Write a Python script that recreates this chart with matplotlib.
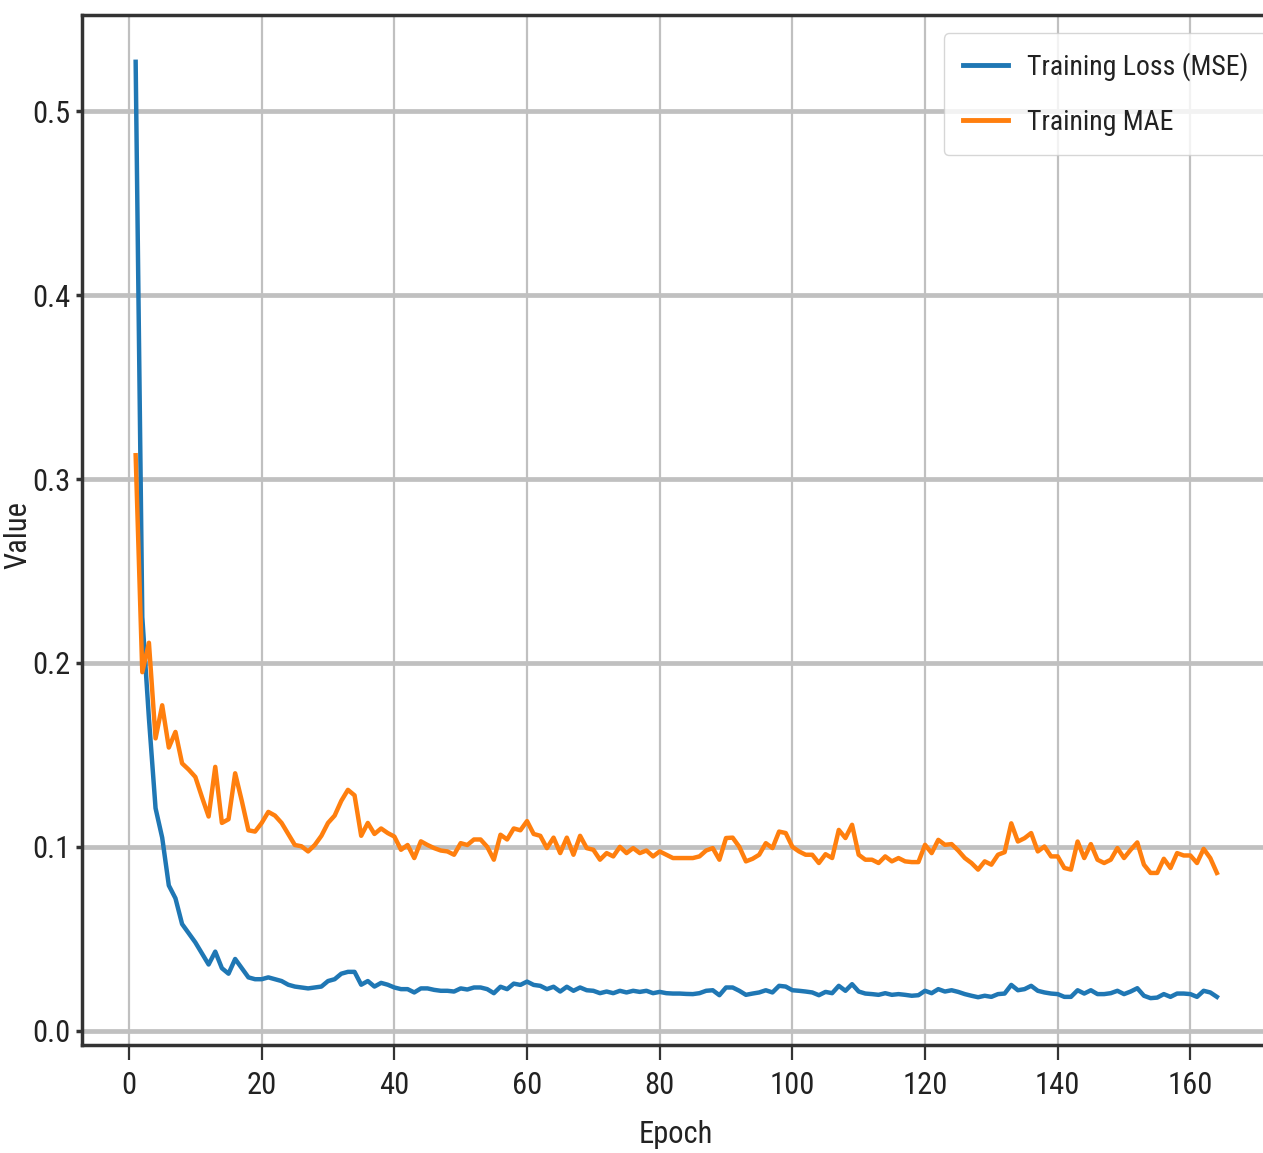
import matplotlib
matplotlib.use("Agg")
import matplotlib.pyplot as plt
from matplotlib import font_manager

epochs = list(range(1, 165))

loss_mse = [
    0.527, 0.225, 0.170, 0.121, 0.105, 0.079, 0.072, 0.058, 0.053, 0.048,
    0.042, 0.036, 0.043, 0.034, 0.031, 0.039, 0.034, 0.029, 0.028, 0.028,
    0.029, 0.028, 0.027, 0.025, 0.024, 0.0235, 0.023, 0.0235, 0.024, 0.027,
    0.028, 0.031, 0.032, 0.032, 0.025, 0.027, 0.024, 0.026, 0.025, 0.0235,
    0.0226, 0.0226, 0.0208, 0.023, 0.023, 0.0222, 0.0217, 0.0217, 0.0213, 0.023,
    0.0224, 0.0235, 0.0235, 0.0226, 0.0204, 0.0239, 0.0226, 0.0256, 0.0249, 0.0267,
    0.0249, 0.0244, 0.0226, 0.0239, 0.0213, 0.0239, 0.0217, 0.0235, 0.022, 0.0217,
    0.0204, 0.0213, 0.0204, 0.0217, 0.0208, 0.0217, 0.0211, 0.0217, 0.0204, 0.0211,
    0.0204, 0.0202, 0.0202, 0.0200, 0.0199, 0.0204, 0.0217, 0.022, 0.0193, 0.0235,
    0.0235, 0.0217, 0.0195, 0.0202, 0.0208, 0.022, 0.0208, 0.0244, 0.024, 0.022,
    0.0217, 0.0213, 0.0208, 0.0193, 0.0211, 0.0204, 0.0244, 0.0217, 0.0253, 0.0213,
    0.0202, 0.0199, 0.0195, 0.0204, 0.0195, 0.0199, 0.0195, 0.019, 0.0193, 0.0217,
    0.0204, 0.0226, 0.0213, 0.022, 0.0211, 0.0199, 0.019, 0.0182, 0.019, 0.0184,
    0.0199, 0.0202, 0.0249, 0.022, 0.0226, 0.0244, 0.0217, 0.0208, 0.0202, 0.0199,
    0.0184, 0.0184, 0.022, 0.0202, 0.022, 0.0199, 0.0199, 0.0204, 0.0217, 0.0199,
    0.0213, 0.0231, 0.019, 0.0177, 0.018, 0.0199, 0.0184, 0.0202, 0.0202, 0.0199,
    0.0184, 0.0217, 0.0208, 0.0184,
]

train_mae = [
    0.313, 0.195, 0.211, 0.159, 0.177, 0.154, 0.1625, 0.1454, 0.142, 0.138,
    0.127, 0.1165, 0.1435, 0.113, 0.115, 0.140, 0.125, 0.109, 0.1083, 0.113,
    0.119, 0.117, 0.113, 0.107, 0.101, 0.1003, 0.0975, 0.101, 0.106, 0.113,
    0.117, 0.125, 0.131, 0.128, 0.106, 0.113, 0.107, 0.110, 0.1075, 0.1056,
    0.0984, 0.101, 0.0939, 0.103, 0.101, 0.0993, 0.098, 0.0975, 0.0957, 0.102,
    0.101, 0.104, 0.104, 0.100, 0.093, 0.1066, 0.104, 0.110, 0.109, 0.114,
    0.107, 0.106, 0.0993, 0.105, 0.0966, 0.105, 0.0957, 0.106, 0.0993, 0.0984,
    0.093, 0.0966, 0.0948, 0.100, 0.0966, 0.0993, 0.0966, 0.098, 0.0948, 0.0975,
    0.0957, 0.0939, 0.0939, 0.0939, 0.0939, 0.0948, 0.098, 0.0993, 0.093, 0.1048,
    0.105, 0.100, 0.0921, 0.0935, 0.0957, 0.102, 0.0993, 0.1083, 0.1075, 0.100,
    0.0975, 0.0957, 0.0957, 0.0912, 0.096, 0.0939, 0.1092, 0.1048, 0.112, 0.0957,
    0.093, 0.093, 0.0912, 0.0948, 0.0921, 0.0939, 0.0921, 0.0917, 0.0917, 0.1011,
    0.0966, 0.1038, 0.1011, 0.1015, 0.098, 0.0939, 0.0912, 0.0876, 0.0921, 0.0903,
    0.0957, 0.0971, 0.1128, 0.1029, 0.1047, 0.1075, 0.0975, 0.1002, 0.0948, 0.0948,
    0.0885, 0.0876, 0.1029, 0.0939, 0.1015, 0.093, 0.0912, 0.093, 0.0993, 0.0939,
    0.0984, 0.1024, 0.0903, 0.0858, 0.0858, 0.0935, 0.0885, 0.0966, 0.0953, 0.0953,
    0.0912, 0.0989, 0.0939, 0.0858,
]

series_labels = ["Training Loss (MSE)", "Training MAE"]
x_label = "Epoch"
y_label = "Value"

# Prefer a condensed face if one is installed (the reference text is narrow)
available = {f.name for f in font_manager.fontManager.ttflist}
condensed_candidates = ["Liberation Sans Narrow", "DejaVu Sans Condensed",
                        "Roboto Condensed", "Open Sans Condensed", "Noto Sans Condensed"]
narrow = next((c for c in condensed_candidates if c in available), "DejaVu Sans")
plt.rcParams['font.family'] = [narrow, 'DejaVu Sans']

fig = plt.figure(figsize=(12.63, 11.53), dpi=100)
ax = fig.add_axes([0.0646, 0.0937, 0.9417, 0.8933])

ax.plot(epochs, loss_mse, color="#1f77b4", lw=3.2, label=series_labels[0])
ax.plot(epochs, train_mae, color="#ff7f0e", lw=3.2, label=series_labels[1])

ax.yaxis.grid(True, color="#c0c0c0", lw=3.4)
ax.xaxis.grid(True, color="#c0c0c0", lw=1.6)
ax.set_axisbelow(True)

ax.set_xticks([0, 20, 40, 60, 80, 100, 120, 140, 160])
ax.set_yticks([0.0, 0.1, 0.2, 0.3, 0.4, 0.5])
ax.tick_params(axis='both', labelsize=22, color="#333333", labelcolor="#222222")
ax.tick_params(axis='x', length=11, width=1.6, pad=8)
ax.tick_params(axis='y', length=4, width=2.5, pad=4)

for s in ax.spines.values():
    s.set_linewidth(2.5)
    s.set_color("#333333")

ax.set_xlabel(x_label, fontsize=22, labelpad=14, color="#222222")
ax.set_ylabel(y_label, fontsize=22, color="#222222")
ax.yaxis.set_label_coords(-0.041, 0.495)

leg = ax.legend(loc='upper right', fontsize=20, handlelength=1.6,
                handletextpad=0.7, bbox_to_anchor=(1268 / 1263, 1 - 33 / 1153),
                bbox_transform=fig.transFigure, borderaxespad=0.0,
                borderpad=0.7, labelspacing=1.0, framealpha=0.8)
for line in leg.get_lines():
    line.set_linewidth(3.5)
for t in leg.get_texts():
    t.set_color("#222222")

fig.savefig("out.png", dpi=100)
